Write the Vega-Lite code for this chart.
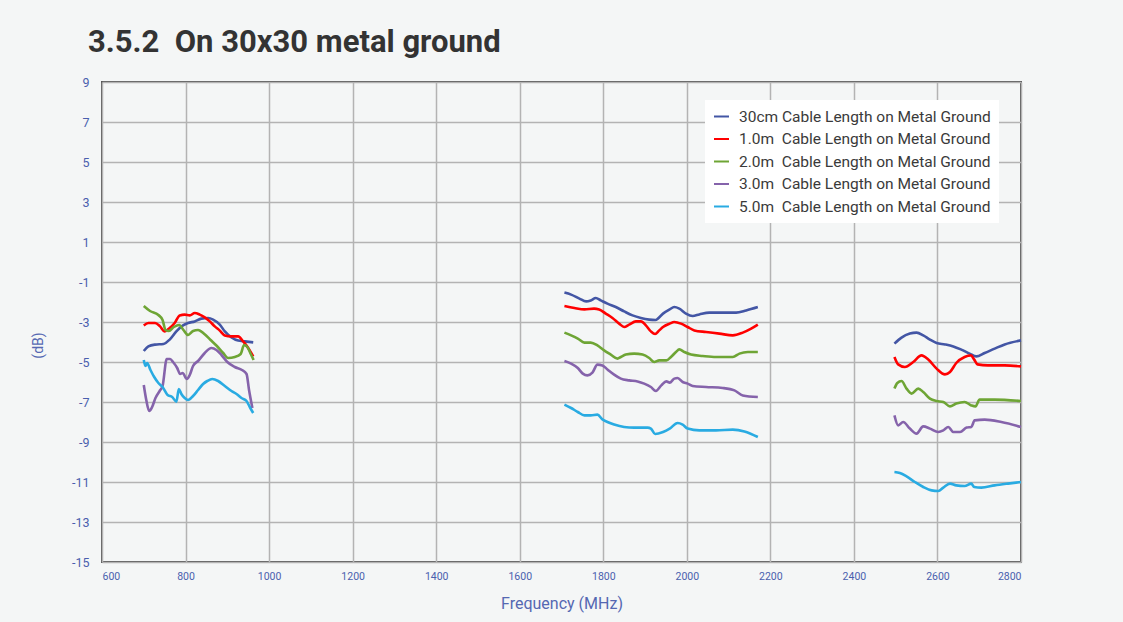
{
  "$schema": "https://vega.github.io/schema/vega-lite/v6.json",
  "width": 919,
  "height": 480,
  "autosize": {"type": "none"},
  "padding": {"left": 102, "top": 82, "right": 102, "bottom": 60},
  "background": "#f4f6f6",
  "title": {
    "text": "3.5.2\u00a0 On 30x30 metal ground",
    "anchor": "start",
    "frame": "group",
    "dx": -14,
    "offset": 17,
    "font": "Roboto",
    "fontSize": 31,
    "fontWeight": "bold",
    "color": "#333333"
  },
  "data": {
    "values": [
      {"s":"30cm","b":1,"f":700,"v":-4.45},{"s":"30cm","b":1,"f":711,"v":-4.22},{"s":"30cm","b":1,"f":727,"v":-4.13},{"s":"30cm","b":1,"f":747,"v":-4.1},{"s":"30cm","b":1,"f":762,"v":-3.88},{"s":"30cm","b":1,"f":778,"v":-3.47},{"s":"30cm","b":1,"f":794,"v":-3.17},{"s":"30cm","b":1,"f":806,"v":-3.05},{"s":"30cm","b":1,"f":822,"v":-2.97},{"s":"30cm","b":1,"f":838,"v":-2.83},{"s":"30cm","b":1,"f":854,"v":-2.8},{"s":"30cm","b":1,"f":866,"v":-2.88},{"s":"30cm","b":1,"f":882,"v":-3.13},{"s":"30cm","b":1,"f":894,"v":-3.47},{"s":"30cm","b":1,"f":910,"v":-3.77},{"s":"30cm","b":1,"f":926,"v":-3.93},{"s":"30cm","b":1,"f":942,"v":-3.97},{"s":"30cm","b":1,"f":962,"v":-4.02},
      {"s":"30cm","b":2,"f":1707,"v":-1.53},{"s":"30cm","b":2,"f":1723,"v":-1.63},{"s":"30cm","b":2,"f":1743,"v":-1.83},{"s":"30cm","b":2,"f":1759,"v":-1.97},{"s":"30cm","b":2,"f":1770,"v":-1.92},{"s":"30cm","b":2,"f":1782,"v":-1.8},{"s":"30cm","b":2,"f":1794,"v":-1.92},{"s":"30cm","b":2,"f":1810,"v":-2.08},{"s":"30cm","b":2,"f":1830,"v":-2.25},{"s":"30cm","b":2,"f":1850,"v":-2.47},{"s":"30cm","b":2,"f":1870,"v":-2.67},{"s":"30cm","b":2,"f":1890,"v":-2.8},{"s":"30cm","b":2,"f":1910,"v":-2.88},{"s":"30cm","b":2,"f":1925,"v":-2.9},{"s":"30cm","b":2,"f":1943,"v":-2.58},{"s":"30cm","b":2,"f":1959,"v":-2.37},{"s":"30cm","b":2,"f":1970,"v":-2.25},{"s":"30cm","b":2,"f":1982,"v":-2.33},{"s":"30cm","b":2,"f":1998,"v":-2.58},{"s":"30cm","b":2,"f":2014,"v":-2.7},{"s":"30cm","b":2,"f":2030,"v":-2.62},{"s":"30cm","b":2,"f":2054,"v":-2.53},{"s":"30cm","b":2,"f":2086,"v":-2.53},{"s":"30cm","b":2,"f":2118,"v":-2.53},{"s":"30cm","b":2,"f":2142,"v":-2.42},{"s":"30cm","b":2,"f":2170,"v":-2.25},
      {"s":"30cm","b":3,"f":2497,"v":-4.08},{"s":"30cm","b":3,"f":2514,"v":-3.78},{"s":"30cm","b":3,"f":2534,"v":-3.58},{"s":"30cm","b":3,"f":2550,"v":-3.53},{"s":"30cm","b":3,"f":2566,"v":-3.67},{"s":"30cm","b":3,"f":2582,"v":-3.88},{"s":"30cm","b":3,"f":2598,"v":-4.05},{"s":"30cm","b":3,"f":2618,"v":-4.12},{"s":"30cm","b":3,"f":2638,"v":-4.22},{"s":"30cm","b":3,"f":2657,"v":-4.38},{"s":"30cm","b":3,"f":2677,"v":-4.58},{"s":"30cm","b":3,"f":2693,"v":-4.72},{"s":"30cm","b":3,"f":2713,"v":-4.55},{"s":"30cm","b":3,"f":2737,"v":-4.33},{"s":"30cm","b":3,"f":2761,"v":-4.12},{"s":"30cm","b":3,"f":2800,"v":-3.92},

      {"s":"1.0m","b":1,"f":700,"v":-3.17},{"s":"1.0m","b":1,"f":711,"v":-3.05},{"s":"1.0m","b":1,"f":727,"v":-3.05},{"s":"1.0m","b":1,"f":739,"v":-3.22},{"s":"1.0m","b":1,"f":750,"v":-3.47},{"s":"1.0m","b":1,"f":762,"v":-3.3},{"s":"1.0m","b":1,"f":774,"v":-3.05},{"s":"1.0m","b":1,"f":786,"v":-2.67},{"s":"1.0m","b":1,"f":798,"v":-2.63},{"s":"1.0m","b":1,"f":810,"v":-2.67},{"s":"1.0m","b":1,"f":822,"v":-2.55},{"s":"1.0m","b":1,"f":834,"v":-2.63},{"s":"1.0m","b":1,"f":846,"v":-2.77},{"s":"1.0m","b":1,"f":858,"v":-2.97},{"s":"1.0m","b":1,"f":870,"v":-3.22},{"s":"1.0m","b":1,"f":882,"v":-3.43},{"s":"1.0m","b":1,"f":894,"v":-3.67},{"s":"1.0m","b":1,"f":910,"v":-3.72},{"s":"1.0m","b":1,"f":926,"v":-3.72},{"s":"1.0m","b":1,"f":938,"v":-3.97},{"s":"1.0m","b":1,"f":950,"v":-4.3},{"s":"1.0m","b":1,"f":962,"v":-4.72},
      {"s":"1.0m","b":2,"f":1707,"v":-2.2},{"s":"1.0m","b":2,"f":1731,"v":-2.3},{"s":"1.0m","b":2,"f":1755,"v":-2.37},{"s":"1.0m","b":2,"f":1778,"v":-2.33},{"s":"1.0m","b":2,"f":1790,"v":-2.37},{"s":"1.0m","b":2,"f":1806,"v":-2.58},{"s":"1.0m","b":2,"f":1822,"v":-2.8},{"s":"1.0m","b":2,"f":1838,"v":-3.08},{"s":"1.0m","b":2,"f":1850,"v":-3.25},{"s":"1.0m","b":2,"f":1862,"v":-3.13},{"s":"1.0m","b":2,"f":1878,"v":-2.97},{"s":"1.0m","b":2,"f":1890,"v":-2.97},{"s":"1.0m","b":2,"f":1902,"v":-3.17},{"s":"1.0m","b":2,"f":1914,"v":-3.47},{"s":"1.0m","b":2,"f":1924,"v":-3.6},{"s":"1.0m","b":2,"f":1934,"v":-3.42},{"s":"1.0m","b":2,"f":1943,"v":-3.25},{"s":"1.0m","b":2,"f":1959,"v":-3.08},{"s":"1.0m","b":2,"f":1970,"v":-3.0},{"s":"1.0m","b":2,"f":1986,"v":-3.08},{"s":"1.0m","b":2,"f":2002,"v":-3.25},{"s":"1.0m","b":2,"f":2018,"v":-3.42},{"s":"1.0m","b":2,"f":2046,"v":-3.5},{"s":"1.0m","b":2,"f":2078,"v":-3.58},{"s":"1.0m","b":2,"f":2110,"v":-3.67},{"s":"1.0m","b":2,"f":2134,"v":-3.53},{"s":"1.0m","b":2,"f":2154,"v":-3.33},{"s":"1.0m","b":2,"f":2170,"v":-3.13},
      {"s":"1.0m","b":3,"f":2497,"v":-4.75},{"s":"1.0m","b":3,"f":2506,"v":-5.12},{"s":"1.0m","b":3,"f":2522,"v":-5.25},{"s":"1.0m","b":3,"f":2542,"v":-5.0},{"s":"1.0m","b":3,"f":2562,"v":-4.67},{"s":"1.0m","b":3,"f":2578,"v":-4.88},{"s":"1.0m","b":3,"f":2598,"v":-5.33},{"s":"1.0m","b":3,"f":2618,"v":-5.62},{"s":"1.0m","b":3,"f":2630,"v":-5.5},{"s":"1.0m","b":3,"f":2645,"v":-5.05},{"s":"1.0m","b":3,"f":2665,"v":-4.75},{"s":"1.0m","b":3,"f":2680,"v":-4.67},{"s":"1.0m","b":3,"f":2688,"v":-4.88},{"s":"1.0m","b":3,"f":2696,"v":-5.12},{"s":"1.0m","b":3,"f":2721,"v":-5.17},{"s":"1.0m","b":3,"f":2761,"v":-5.17},{"s":"1.0m","b":3,"f":2800,"v":-5.22},

      {"s":"2.0m","b":1,"f":700,"v":-2.2},{"s":"2.0m","b":1,"f":715,"v":-2.45},{"s":"2.0m","b":1,"f":735,"v":-2.65},{"s":"2.0m","b":1,"f":745,"v":-2.9},{"s":"2.0m","b":1,"f":752,"v":-3.4},{"s":"2.0m","b":1,"f":760,"v":-3.45},{"s":"2.0m","b":1,"f":772,"v":-3.25},{"s":"2.0m","b":1,"f":785,"v":-3.15},{"s":"2.0m","b":1,"f":795,"v":-3.4},{"s":"2.0m","b":1,"f":806,"v":-3.65},{"s":"2.0m","b":1,"f":818,"v":-3.45},{"s":"2.0m","b":1,"f":830,"v":-3.4},{"s":"2.0m","b":1,"f":845,"v":-3.6},{"s":"2.0m","b":1,"f":860,"v":-3.9},{"s":"2.0m","b":1,"f":875,"v":-4.2},{"s":"2.0m","b":1,"f":890,"v":-4.55},{"s":"2.0m","b":1,"f":902,"v":-4.8},{"s":"2.0m","b":1,"f":918,"v":-4.75},{"s":"2.0m","b":1,"f":932,"v":-4.6},{"s":"2.0m","b":1,"f":940,"v":-4.15},{"s":"2.0m","b":1,"f":948,"v":-4.25},{"s":"2.0m","b":1,"f":955,"v":-4.55},{"s":"2.0m","b":1,"f":963,"v":-4.9},
      {"s":"2.0m","b":2,"f":1707,"v":-3.53},{"s":"2.0m","b":2,"f":1723,"v":-3.67},{"s":"2.0m","b":2,"f":1739,"v":-3.83},{"s":"2.0m","b":2,"f":1755,"v":-4.03},{"s":"2.0m","b":2,"f":1770,"v":-4.03},{"s":"2.0m","b":2,"f":1786,"v":-4.17},{"s":"2.0m","b":2,"f":1802,"v":-4.42},{"s":"2.0m","b":2,"f":1818,"v":-4.63},{"s":"2.0m","b":2,"f":1834,"v":-4.83},{"s":"2.0m","b":2,"f":1842,"v":-4.75},{"s":"2.0m","b":2,"f":1854,"v":-4.63},{"s":"2.0m","b":2,"f":1874,"v":-4.58},{"s":"2.0m","b":2,"f":1894,"v":-4.63},{"s":"2.0m","b":2,"f":1910,"v":-4.8},{"s":"2.0m","b":2,"f":1922,"v":-5.0},{"s":"2.0m","b":2,"f":1934,"v":-4.92},{"s":"2.0m","b":2,"f":1951,"v":-4.92},{"s":"2.0m","b":2,"f":1962,"v":-4.75},{"s":"2.0m","b":2,"f":1974,"v":-4.5},{"s":"2.0m","b":2,"f":1982,"v":-4.37},{"s":"2.0m","b":2,"f":1994,"v":-4.5},{"s":"2.0m","b":2,"f":2010,"v":-4.63},{"s":"2.0m","b":2,"f":2038,"v":-4.7},{"s":"2.0m","b":2,"f":2070,"v":-4.75},{"s":"2.0m","b":2,"f":2110,"v":-4.75},{"s":"2.0m","b":2,"f":2126,"v":-4.58},{"s":"2.0m","b":2,"f":2146,"v":-4.5},{"s":"2.0m","b":2,"f":2170,"v":-4.5},
      {"s":"2.0m","b":3,"f":2497,"v":-6.33},{"s":"2.0m","b":3,"f":2504,"v":-6.05},{"s":"2.0m","b":3,"f":2514,"v":-5.95},{"s":"2.0m","b":3,"f":2526,"v":-6.33},{"s":"2.0m","b":3,"f":2538,"v":-6.58},{"s":"2.0m","b":3,"f":2554,"v":-6.33},{"s":"2.0m","b":3,"f":2566,"v":-6.5},{"s":"2.0m","b":3,"f":2582,"v":-6.83},{"s":"2.0m","b":3,"f":2598,"v":-6.95},{"s":"2.0m","b":3,"f":2614,"v":-7.0},{"s":"2.0m","b":3,"f":2630,"v":-7.22},{"s":"2.0m","b":3,"f":2645,"v":-7.08},{"s":"2.0m","b":3,"f":2665,"v":-7.0},{"s":"2.0m","b":3,"f":2681,"v":-7.17},{"s":"2.0m","b":3,"f":2691,"v":-7.22},{"s":"2.0m","b":3,"f":2701,"v":-6.88},{"s":"2.0m","b":3,"f":2737,"v":-6.88},{"s":"2.0m","b":3,"f":2800,"v":-6.95},

      {"s":"3.0m","b":1,"f":700,"v":-6.15},{"s":"3.0m","b":1,"f":706,"v":-6.9},{"s":"3.0m","b":1,"f":713,"v":-7.45},{"s":"3.0m","b":1,"f":720,"v":-7.25},{"s":"3.0m","b":1,"f":728,"v":-6.8},{"s":"3.0m","b":1,"f":738,"v":-6.45},{"s":"3.0m","b":1,"f":745,"v":-6.2},{"s":"3.0m","b":1,"f":755,"v":-4.85},{"s":"3.0m","b":1,"f":763,"v":-4.85},{"s":"3.0m","b":1,"f":770,"v":-5.0},{"s":"3.0m","b":1,"f":780,"v":-5.3},{"s":"3.0m","b":1,"f":787,"v":-5.6},{"s":"3.0m","b":1,"f":793,"v":-5.55},{"s":"3.0m","b":1,"f":803,"v":-5.85},{"s":"3.0m","b":1,"f":810,"v":-5.65},{"s":"3.0m","b":1,"f":818,"v":-5.2},{"s":"3.0m","b":1,"f":830,"v":-4.95},{"s":"3.0m","b":1,"f":846,"v":-4.55},{"s":"3.0m","b":1,"f":862,"v":-4.3},{"s":"3.0m","b":1,"f":874,"v":-4.4},{"s":"3.0m","b":1,"f":886,"v":-4.65},{"s":"3.0m","b":1,"f":900,"v":-5.0},{"s":"3.0m","b":1,"f":918,"v":-5.25},{"s":"3.0m","b":1,"f":935,"v":-5.4},{"s":"3.0m","b":1,"f":946,"v":-5.6},{"s":"3.0m","b":1,"f":952,"v":-6.4},{"s":"3.0m","b":1,"f":960,"v":-7.3},
      {"s":"3.0m","b":2,"f":1707,"v":-4.95},{"s":"3.0m","b":2,"f":1723,"v":-5.08},{"s":"3.0m","b":2,"f":1739,"v":-5.3},{"s":"3.0m","b":2,"f":1751,"v":-5.58},{"s":"3.0m","b":2,"f":1762,"v":-5.67},{"s":"3.0m","b":2,"f":1774,"v":-5.53},{"s":"3.0m","b":2,"f":1786,"v":-5.13},{"s":"3.0m","b":2,"f":1798,"v":-5.17},{"s":"3.0m","b":2,"f":1810,"v":-5.37},{"s":"3.0m","b":2,"f":1826,"v":-5.63},{"s":"3.0m","b":2,"f":1842,"v":-5.83},{"s":"3.0m","b":2,"f":1862,"v":-5.92},{"s":"3.0m","b":2,"f":1882,"v":-5.97},{"s":"3.0m","b":2,"f":1898,"v":-6.08},{"s":"3.0m","b":2,"f":1914,"v":-6.25},{"s":"3.0m","b":2,"f":1926,"v":-6.45},{"s":"3.0m","b":2,"f":1939,"v":-6.17},{"s":"3.0m","b":2,"f":1951,"v":-5.97},{"s":"3.0m","b":2,"f":1959,"v":-6.03},{"s":"3.0m","b":2,"f":1970,"v":-5.83},{"s":"3.0m","b":2,"f":1978,"v":-5.8},{"s":"3.0m","b":2,"f":1990,"v":-6.0},{"s":"3.0m","b":2,"f":2002,"v":-6.08},{"s":"3.0m","b":2,"f":2014,"v":-6.2},{"s":"3.0m","b":2,"f":2046,"v":-6.25},{"s":"3.0m","b":2,"f":2086,"v":-6.3},{"s":"3.0m","b":2,"f":2114,"v":-6.42},{"s":"3.0m","b":2,"f":2134,"v":-6.67},{"s":"3.0m","b":2,"f":2170,"v":-6.75},
      {"s":"3.0m","b":3,"f":2497,"v":-7.67},{"s":"3.0m","b":3,"f":2506,"v":-8.17},{"s":"3.0m","b":3,"f":2518,"v":-8.0},{"s":"3.0m","b":3,"f":2534,"v":-8.33},{"s":"3.0m","b":3,"f":2550,"v":-8.58},{"s":"3.0m","b":3,"f":2566,"v":-8.22},{"s":"3.0m","b":3,"f":2582,"v":-8.33},{"s":"3.0m","b":3,"f":2602,"v":-8.5},{"s":"3.0m","b":3,"f":2614,"v":-8.42},{"s":"3.0m","b":3,"f":2626,"v":-8.25},{"s":"3.0m","b":3,"f":2638,"v":-8.5},{"s":"3.0m","b":3,"f":2654,"v":-8.5},{"s":"3.0m","b":3,"f":2670,"v":-8.28},{"s":"3.0m","b":3,"f":2681,"v":-8.25},{"s":"3.0m","b":3,"f":2689,"v":-7.92},{"s":"3.0m","b":3,"f":2713,"v":-7.88},{"s":"3.0m","b":3,"f":2753,"v":-8.0},{"s":"3.0m","b":3,"f":2800,"v":-8.25},

      {"s":"5.0m","b":1,"f":700,"v":-4.9},{"s":"5.0m","b":1,"f":704,"v":-5.2},{"s":"5.0m","b":1,"f":708,"v":-5.05},{"s":"5.0m","b":1,"f":716,"v":-5.4},{"s":"5.0m","b":1,"f":725,"v":-5.75},{"s":"5.0m","b":1,"f":735,"v":-6.05},{"s":"5.0m","b":1,"f":745,"v":-6.25},{"s":"5.0m","b":1,"f":757,"v":-6.65},{"s":"5.0m","b":1,"f":768,"v":-6.75},{"s":"5.0m","b":1,"f":778,"v":-6.98},{"s":"5.0m","b":1,"f":784,"v":-6.35},{"s":"5.0m","b":1,"f":790,"v":-6.6},{"s":"5.0m","b":1,"f":798,"v":-6.8},{"s":"5.0m","b":1,"f":806,"v":-6.9},{"s":"5.0m","b":1,"f":818,"v":-6.7},{"s":"5.0m","b":1,"f":830,"v":-6.4},{"s":"5.0m","b":1,"f":842,"v":-6.1},{"s":"5.0m","b":1,"f":852,"v":-5.95},{"s":"5.0m","b":1,"f":864,"v":-5.85},{"s":"5.0m","b":1,"f":878,"v":-5.95},{"s":"5.0m","b":1,"f":894,"v":-6.2},{"s":"5.0m","b":1,"f":910,"v":-6.45},{"s":"5.0m","b":1,"f":922,"v":-6.6},{"s":"5.0m","b":1,"f":934,"v":-6.8},{"s":"5.0m","b":1,"f":946,"v":-6.95},{"s":"5.0m","b":1,"f":955,"v":-7.3},{"s":"5.0m","b":1,"f":962,"v":-7.55},
      {"s":"5.0m","b":2,"f":1707,"v":-7.13},{"s":"5.0m","b":2,"f":1723,"v":-7.3},{"s":"5.0m","b":2,"f":1739,"v":-7.5},{"s":"5.0m","b":2,"f":1755,"v":-7.67},{"s":"5.0m","b":2,"f":1770,"v":-7.67},{"s":"5.0m","b":2,"f":1786,"v":-7.63},{"s":"5.0m","b":2,"f":1798,"v":-7.87},{"s":"5.0m","b":2,"f":1810,"v":-8.0},{"s":"5.0m","b":2,"f":1826,"v":-8.13},{"s":"5.0m","b":2,"f":1850,"v":-8.25},{"s":"5.0m","b":2,"f":1874,"v":-8.28},{"s":"5.0m","b":2,"f":1906,"v":-8.28},{"s":"5.0m","b":2,"f":1914,"v":-8.33},{"s":"5.0m","b":2,"f":1924,"v":-8.6},{"s":"5.0m","b":2,"f":1943,"v":-8.5},{"s":"5.0m","b":2,"f":1959,"v":-8.33},{"s":"5.0m","b":2,"f":1978,"v":-8.05},{"s":"5.0m","b":2,"f":1990,"v":-8.13},{"s":"5.0m","b":2,"f":2002,"v":-8.33},{"s":"5.0m","b":2,"f":2030,"v":-8.42},{"s":"5.0m","b":2,"f":2070,"v":-8.42},{"s":"5.0m","b":2,"f":2110,"v":-8.38},{"s":"5.0m","b":2,"f":2138,"v":-8.47},{"s":"5.0m","b":2,"f":2170,"v":-8.75},
      {"s":"5.0m","b":3,"f":2497,"v":-10.5},{"s":"5.0m","b":3,"f":2510,"v":-10.55},{"s":"5.0m","b":3,"f":2526,"v":-10.72},{"s":"5.0m","b":3,"f":2546,"v":-11.0},{"s":"5.0m","b":3,"f":2566,"v":-11.25},{"s":"5.0m","b":3,"f":2586,"v":-11.42},{"s":"5.0m","b":3,"f":2602,"v":-11.45},{"s":"5.0m","b":3,"f":2614,"v":-11.28},{"s":"5.0m","b":3,"f":2630,"v":-11.08},{"s":"5.0m","b":3,"f":2645,"v":-11.17},{"s":"5.0m","b":3,"f":2665,"v":-11.2},{"s":"5.0m","b":3,"f":2681,"v":-11.08},{"s":"5.0m","b":3,"f":2688,"v":-11.25},{"s":"5.0m","b":3,"f":2705,"v":-11.28},{"s":"5.0m","b":3,"f":2737,"v":-11.17},{"s":"5.0m","b":3,"f":2769,"v":-11.08},{"s":"5.0m","b":3,"f":2800,"v":-11.0}
    ]
  },
  "mark": {"type": "line", "strokeWidth": 2.6, "interpolate": "monotone"},
  "encoding": {
    "x": {
      "field": "f",
      "type": "quantitative",
      "scale": {"domain": [600, 2800], "nice": false},
      "axis": {
        "values": [600, 800, 1000, 1200, 1400, 1600, 1800, 2000, 2200, 2400, 2600, 2800],
        "labelExpr": "'' + datum.value",
        "title": "Frequency (MHz)",
        "labelFontSize": 10.5,
        "labelPadding": 9,
        "titlePadding": 14,
        "titleFontSize": 16
      }
    },
    "y": {
      "field": "v",
      "type": "quantitative",
      "scale": {"domain": [-15, 9], "nice": false},
      "axis": {
        "values": [-15, -13, -11, -9, -7, -5, -3, -1, 1, 3, 5, 7, 9],
        "labelExpr": "'' + datum.value",
        "title": "(dB)",
        "labelFontSize": 12.5,
        "labelPadding": 13,
        "titleFontSize": 14,
        "titleX": -57,
        "titleY": 263
      }
    },
    "color": {
      "field": "s",
      "type": "nominal",
      "scale": {
        "domain": ["30cm", "1.0m", "2.0m", "3.0m", "5.0m"],
        "range": ["#4356a5", "#ff0000", "#6ea535", "#8563ab", "#29abe2"]
      },
      "legend": {
        "labelExpr": "datum.label == '30cm' ? '30cm Cable Length on Metal Ground' : datum.label + '\u00a0\u00a0Cable Length on Metal Ground'"
      }
    },
    "detail": {"field": "b", "type": "nominal"}
  },
  "config": {
    "view": {"stroke": "#555555", "strokeWidth": 2},
    "axis": {
      "grid": true,
      "gridColor": "#b3b3b3",
      "gridWidth": 1.5,
      "domain": false,
      "ticks": false,
      "labelFont": "Roboto",
      "labelColor": "#4a5fae",
      "titleFont": "Roboto",
      "titleColor": "#5568b2",
      "titleFontWeight": "normal"
    },
    "legend": {
      "orient": "none",
      "legendX": 603,
      "legendY": 18,
      "title": null,
      "fillColor": "#ffffff",
      "padding": 8,
      "symbolType": "stroke",
      "symbolSize": 225,
      "symbolStrokeWidth": 2,
      "labelFont": "Roboto",
      "labelFontSize": 15.5,
      "labelColor": "#3a3a3a",
      "labelOffset": 9,
      "labelLimit": 400,
      "rowPadding": 5.5
    }
  }
}
